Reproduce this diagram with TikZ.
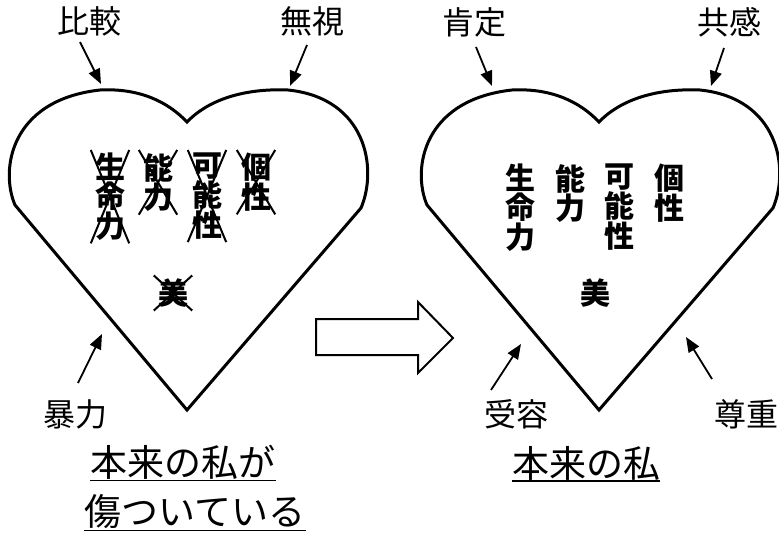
\documentclass[tikz,border=0pt]{standalone}
\usepackage{fontspec}
\setmainfont{Noto Sans CJK JP}
\usetikzlibrary{arrows.meta}
\tikzset{
  heartline/.style={line width=3pt, line join=miter},
  ptr/.style={line width=1.8pt, -{Triangle[length=15pt,width=12pt]}},
  lbl/.style={inner sep=0pt, font=\fontsize{32}{32}\selectfont},
  captxt/.style={inner sep=0pt, font=\fontsize{37}{37}\selectfont},
  uline/.style={line width=1.6pt},
  vtext/.style={inner xsep=4pt, inner ysep=0pt, anchor=north, align=center, font=\bfseries\fontsize{30}{27}\selectfont},
  xline/.style={line width=2pt},
  hollow/.style={line width=2pt, line join=miter}
}
\begin{document}
\begin{tikzpicture}[x=1pt,y=-1pt]
\useasboundingbox (0,0) rectangle (779,533);
% hearts
\foreach \s in {0,412}{
  \begin{scope}[xshift=\s pt]
  \draw[heartline] (187,410) -- (15,205) .. controls (0,170) and (10,100) .. (100,90)
     .. controls (140,88) and (168,102) .. (187,122)
     .. controls (206,102) and (240,88) .. (288,90)
     .. controls (366,98) and (378,168) .. (361,208) -- cycle;
  \end{scope}
}
% left heart texts
\node[vtext] (l1) at (110,153) {生\\命\\力};
\node[vtext] (l2) at (158,153) {能\\力};
\node[vtext] (l3) at (207,153) {可\\能\\性};
\node[vtext] (l4) at (256,153) {個\\性};
\node[vtext, anchor=center] (l5) at (173,293) {美};
\foreach \n in {l1,l2,l3,l4,l5}{
  \draw[xline] ([yshift=3pt]\n.north west) -- ([yshift=-3pt]\n.south east);
  \draw[xline] ([yshift=3pt]\n.north east) -- ([yshift=-3pt]\n.south west);
}
% right heart texts
\node[vtext] (r1) at (520,164) {生\\命\\力};
\node[vtext] (r2) at (570,164) {能\\力};
\node[vtext] (r3) at (619,164) {可\\能\\性};
\node[vtext] (r4) at (669,164) {個\\性};
\node[vtext, anchor=center] (r5) at (595,293) {美};
% labels
\node[lbl] (hikaku) at (89,21) {比較};
\node[lbl] (mushi) at (312,21) {無視};
\node[lbl] (bouryoku) at (75,414) {暴力};
\node[lbl] (koutei) at (474,22) {肯定};
\node[lbl] (kyoukan) at (729,22) {共感};
\node[lbl] (juyou) at (516,414) {受容};
\node[lbl] (sonchou) at (746,414) {尊重};
% pointer arrows
\coordinate (a1s) at (80,42);  \coordinate (a1e) at (101,84);
\coordinate (a2s) at (307,45); \coordinate (a2e) at (290,86);
\coordinate (a3s) at (78,383); \coordinate (a3e) at (102,334);
\coordinate (a4s) at (476,47); \coordinate (a4e) at (492,86);
\coordinate (a5s) at (724,48); \coordinate (a5e) at (711,86);
\coordinate (a6s) at (491,390); \coordinate (a6e) at (521,344);
\coordinate (a7s) at (712,379); \coordinate (a7e) at (686,337);
\foreach \i in {1,...,7}{ \draw[ptr] (a\i s) -- (a\i e); }
% hollow arrow
\draw[hollow] (316,319) -- (418,319) -- (418,302) -- (453,338) -- (418,373) -- (418,355) -- (316,355) -- cycle;
% captions
\node[captxt] (c1) at (183,462) {本来の私が};
\node[captxt] (c2) at (195,512) {傷ついている};
\node[captxt] (c3) at (586,463) {本来の私};
\foreach \n in {c1,c2,c3}{
  \draw[uline] ([yshift=-1pt]\n.south west) -- ([yshift=-1pt]\n.south east);
}
\end{tikzpicture}
\end{document}
